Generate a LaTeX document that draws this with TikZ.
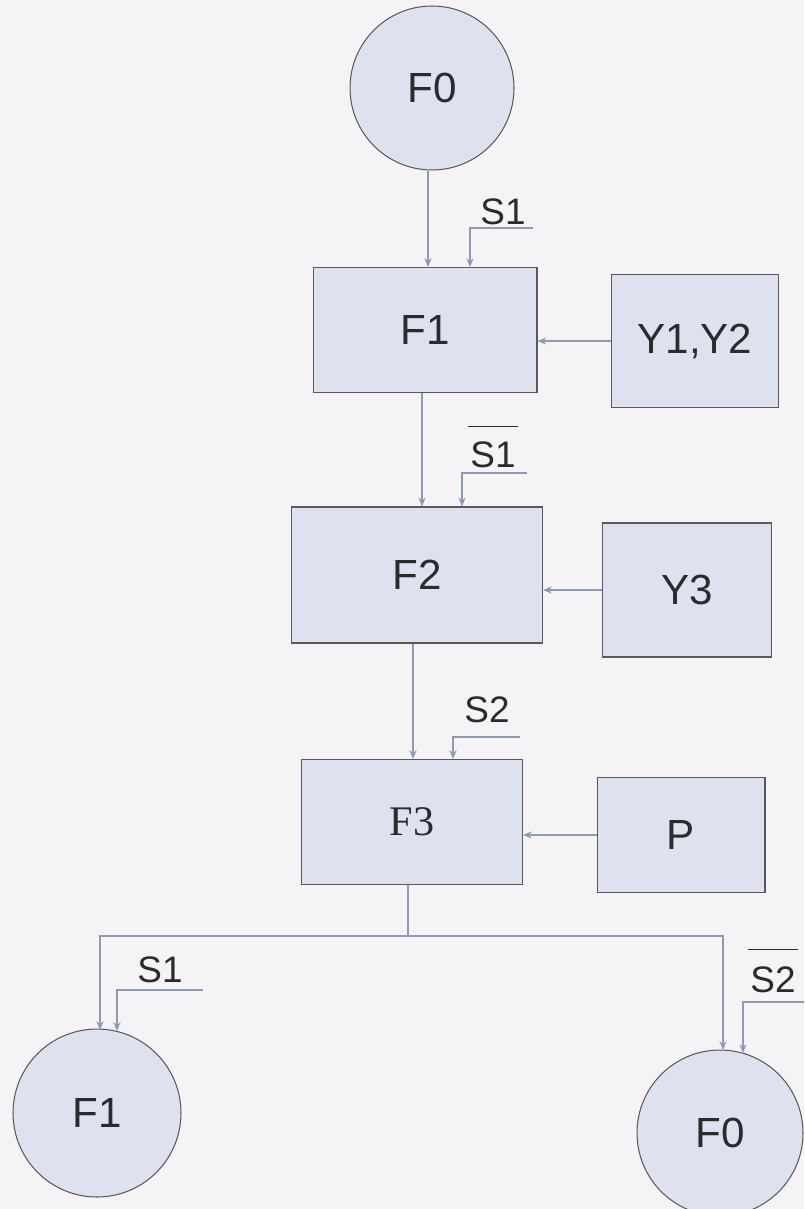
\documentclass[tikz,border=0pt]{standalone}
\usepackage{fontspec}
\setmainfont{Liberation Sans}
\newfontfamily\serifF{Liberation Serif}
\usetikzlibrary{arrows.meta,calc}
\definecolor{paper}{HTML}{F6F3F6}
\definecolor{boxfill}{HTML}{DEE2EF}
\definecolor{edge}{HTML}{5A5A5E}
\definecolor{wire}{HTML}{8C9AB6}
\definecolor{ink}{HTML}{2B2B2E}
\tikzset{
  state/.style={circle,draw=edge,fill=boxfill,line width=0.6pt,text=ink,
    font=\fontsize{24}{28}\selectfont,inner sep=0pt},
  block/.style={rectangle,draw=edge,fill=boxfill,line width=0.6pt,text=ink,
    font=\fontsize{24}{28}\selectfont,inner sep=0pt},
  sig/.style={text=ink,font=\fontsize{21}{25}\selectfont,inner sep=0pt},
  conn/.style={draw=wire,line width=0.6pt,-{Stealth[length=5pt,width=4pt]}},
  tie/.style={draw=wire,line width=0.6pt},
  bar/.style={draw=ink,line width=0.8pt}
}
\begin{document}
\begin{tikzpicture}[x=0.02cm,y=-0.02cm]
  \fill[paper] (0,0) rectangle (804,1209);
  \useasboundingbox (0,0) rectangle (804,1209);

  % states
  \node[state,minimum size=3.28cm] (F0top) at (432,88) {F0};
  \node[state,minimum size=3.36cm] (F1c) at (97,1113) {F1};
  \node[state,minimum size=3.32cm] (F0b) at (720,1133) {F0};

  % operation blocks
  \node[block,minimum width=4.48cm,minimum height=2.5cm] (F1) at (425,330) {F1};
  \node[block,minimum width=3.34cm,minimum height=2.66cm] (Y12) at (695,341) {Y1,Y2};
  \node[block,minimum width=5.02cm,minimum height=2.72cm] (F2) at (417,575) {F2};
  \node[block,minimum width=3.38cm,minimum height=2.68cm] (Y3) at (687,590) {Y3};
  \node[block,minimum width=4.42cm,minimum height=2.5cm,font=\serifF\fontsize{24}{28}\selectfont] (F3) at (412,822) {F3};
  \node[block,minimum width=3.36cm,minimum height=2.3cm] (P) at (681,835) {P};

  % condition labels
  \node[sig] (s1) at (503,212) {S1};
  \node[sig] (s1n) at (493,455) {S1};
  \draw[bar] ($(s1n.north west)+(-2,-15)$) -- ($(s1n.north east)+(2,-15)$);
  \node[sig] (s2) at (487,710) {S2};
  \node[sig] (s1l) at (160,970) {S1};
  \node[sig] (s2n) at (773,980) {S2};
  \draw[bar] ($(s2n.north west)+(-2,-17)$) -- ($(s2n.north east)+(2,-17)$);

  % condition wires
  \coordinate (c1) at (533,228);
  \coordinate (c2) at (527,473);
  \coordinate (c3) at (520,737);
  \coordinate (c4) at (203,990);
  \coordinate (c5) at (804,1002);
  \draw[conn] (c1) -- (470,228) -- ({470,0} |- F1.north);
  \draw[conn] (c2) -- (462,473) -- ({462,0} |- F2.north);
  \draw[conn] (c3) -- (453,737) -- ({453,0} |- F3.north);
  \draw[conn] (c4) -- (117,990) -- (117,1031);
  \draw[conn] (c5) -- (743,1002) -- (743,1053);

  % main flow
  \draw[conn] ({428,0} |- F0top.south) -- ({428,0} |- F1.north);
  \draw[conn] ({422,0} |- F1.south) -- ({422,0} |- F2.north);
  \draw[conn] ({413,0} |- F2.south) -- ({413,0} |- F3.north);
  \coordinate (split) at (408,936);
  \draw[tie] ({408,0} |- F3.south) -- (split);
  \draw[conn] (split) -- (100,936) -- (100,1030);
  \draw[conn] (split) -- (723,936) -- (723,1050);

  % outputs feeding the blocks
  \draw[conn] (Y12.west) -- (F1.east |- Y12.west);
  \draw[conn] (Y3.west) -- (F2.east |- Y3.west);
  \draw[conn] (P.west) -- (F3.east |- P.west);
\end{tikzpicture}
\end{document}
